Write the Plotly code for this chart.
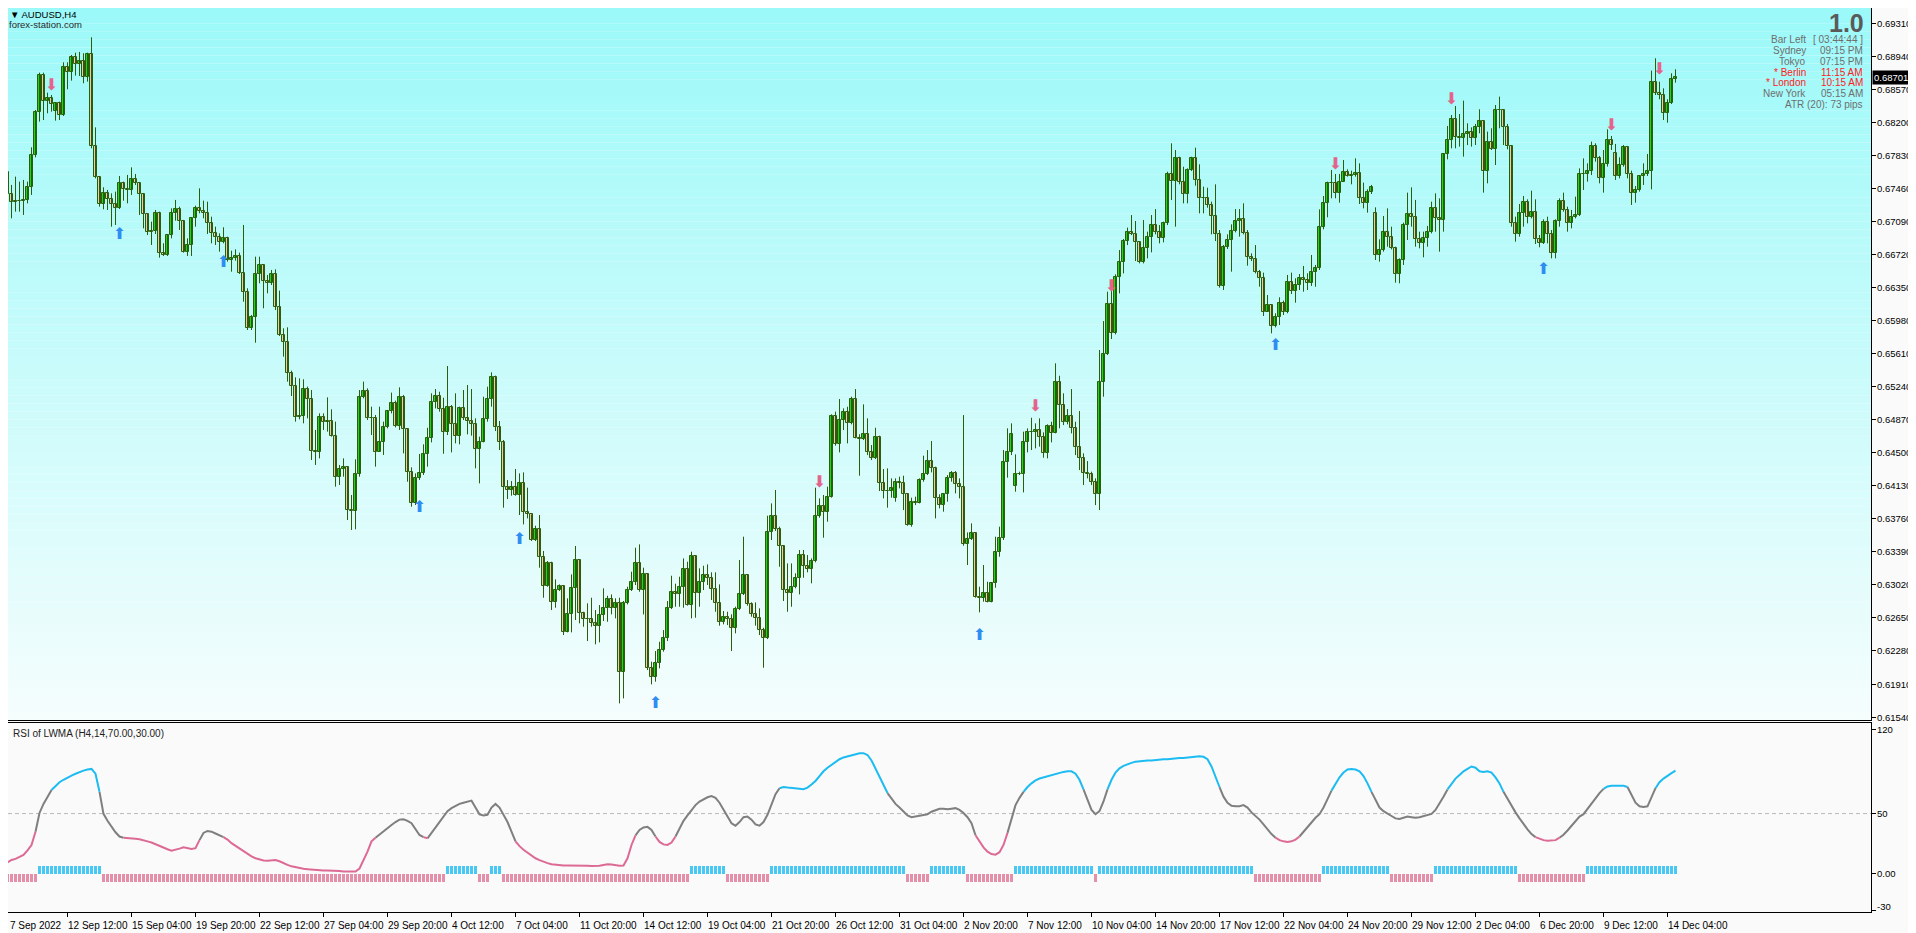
import plotly.graph_objects as go

# AUDUSD H4, bar 0 = 7 Sep 2022 20:00 ... bar 418 = 14 Dec 2022 12:00
closes = [
    0.67646, 0.67392, 0.67310, 0.67318, 0.67318, 0.67329, 0.67470, 0.67829, 0.68310, 0.68728,
    0.68437, 0.68467, 0.68403, 0.68411, 0.68280, 0.68814, 0.68765, 0.68926, 0.68848, 0.68881,
    0.68702, 0.68963, 0.67937, 0.67590, 0.67280, 0.67403, 0.67336, 0.67280, 0.67235, 0.67515,
    0.67448, 0.67441, 0.67560, 0.67515, 0.67396, 0.67168, 0.66974, 0.66982, 0.67187, 0.66739,
    0.66709, 0.66933, 0.67179, 0.67224, 0.67097, 0.66750, 0.66821, 0.67123, 0.67235, 0.67209,
    0.67179, 0.67067, 0.66955, 0.66918, 0.66862, 0.66899, 0.66657, 0.66676, 0.66702, 0.66508,
    0.66295, 0.65892, 0.66015, 0.66496, 0.66601, 0.66426, 0.66396, 0.66500, 0.66134, 0.65817,
    0.65735, 0.65388, 0.65246, 0.64903, 0.64910, 0.65209, 0.65097, 0.64522, 0.64511, 0.64903,
    0.64839, 0.64858, 0.64690, 0.64224, 0.64313, 0.64336, 0.63858, 0.63850, 0.64257, 0.65127,
    0.65190, 0.64884, 0.64892, 0.64511, 0.64616, 0.64791, 0.64966, 0.65060, 0.64798, 0.65119,
    0.64761, 0.64287, 0.63940, 0.64212, 0.64268, 0.64481, 0.64660, 0.65063, 0.65138, 0.64985,
    0.64727, 0.65015, 0.64817, 0.64690, 0.64996, 0.64884, 0.64854, 0.64817, 0.64537, 0.64623,
    0.64873, 0.65100, 0.65343, 0.64783, 0.64623, 0.64119, 0.64082, 0.64119, 0.64026, 0.64156,
    0.63839, 0.63809, 0.63522, 0.63645, 0.63328, 0.63007, 0.63260, 0.62824, 0.62958, 0.63003,
    0.62495, 0.62689, 0.62981, 0.63294, 0.62701, 0.62637, 0.62634, 0.62589, 0.62559, 0.62682,
    0.62757, 0.62857, 0.62757, 0.62813, 0.62040, 0.62813, 0.62958, 0.63048, 0.63260, 0.62962,
    0.63137, 0.62092, 0.61984, 0.62141, 0.62286, 0.62421, 0.62757, 0.62943, 0.62913, 0.62992,
    0.63193, 0.62794, 0.63339, 0.62925, 0.63055, 0.63130, 0.63100, 0.62969, 0.62816, 0.62600,
    0.62663, 0.62637, 0.62540, 0.62749, 0.62913, 0.63130, 0.62801, 0.62690, 0.62645, 0.62510,
    0.62421, 0.63608, 0.63787, 0.63645, 0.63458, 0.62958, 0.62925, 0.62992, 0.63093, 0.63350,
    0.63234, 0.63193, 0.63287, 0.63794, 0.63906, 0.63839, 0.64007, 0.64910, 0.64593, 0.64865,
    0.64951, 0.64828, 0.65097, 0.64667, 0.64652, 0.64705, 0.64503, 0.64436, 0.64679, 0.64156,
    0.64070, 0.64075, 0.64100, 0.64167, 0.64164, 0.64033, 0.63690, 0.63943, 0.63940, 0.64193,
    0.64257, 0.64406, 0.64324, 0.63988, 0.63913, 0.64033, 0.64212, 0.64268, 0.64145, 0.64111,
    0.63473, 0.63529, 0.63596, 0.62887, 0.62869, 0.62924, 0.62831, 0.63036, 0.63383, 0.63540,
    0.64391, 0.64503, 0.64705, 0.64257, 0.64264, 0.64615, 0.64727, 0.64735, 0.64753, 0.64679,
    0.64492, 0.64798, 0.64723, 0.65287, 0.65033, 0.64846, 0.64910, 0.64779, 0.64567, 0.64443,
    0.64275, 0.64257, 0.64175, 0.64033, 0.65287, 0.65600, 0.66160, 0.65835, 0.66462, 0.66638,
    0.66869, 0.66974, 0.66948, 0.66854, 0.66638, 0.66787, 0.66918, 0.67048, 0.66974, 0.66899,
    0.67067, 0.67616, 0.67541, 0.67795, 0.67534, 0.67392, 0.67664, 0.67795, 0.67552, 0.67347,
    0.67354, 0.67272, 0.67153, 0.66944, 0.66369, 0.66798, 0.66880, 0.66985, 0.67093, 0.67112,
    0.66955, 0.66694, 0.66668, 0.66518, 0.66459, 0.66078, 0.66153, 0.65922, 0.66022, 0.66172,
    0.66078, 0.66407, 0.66313, 0.66377, 0.66452, 0.66433, 0.66396, 0.66519, 0.66564, 0.67023,
    0.67291, 0.67515, 0.67523, 0.67411, 0.67534, 0.67646, 0.67601, 0.67605, 0.67627, 0.67347,
    0.67291, 0.67422, 0.67478, 0.66713, 0.66769, 0.66974, 0.66918, 0.66787, 0.66496, 0.66657,
    0.67049, 0.67168, 0.67135, 0.66888, 0.66843, 0.66899, 0.66967, 0.67235, 0.67123, 0.67105,
    0.67840, 0.68000, 0.68232, 0.68038, 0.68019, 0.68068, 0.68086, 0.68019, 0.68142, 0.68213,
    0.67657, 0.67974, 0.67900, 0.68336, 0.68333, 0.68142, 0.67933, 0.67067, 0.66944, 0.67187,
    0.67310, 0.67135, 0.67198, 0.66888, 0.66843, 0.67086, 0.66948, 0.66731, 0.67097, 0.67321,
    0.67217, 0.67067, 0.67135, 0.67157, 0.67616, 0.67623, 0.67657, 0.67937, 0.67795, 0.67579,
    0.67728, 0.68000, 0.67944, 0.67601, 0.67720, 0.67918, 0.67616, 0.67411, 0.67441, 0.67601,
    0.67616, 0.67653, 0.68646, 0.68530, 0.68504, 0.68299, 0.68411, 0.68680, 0.68701,
]

highs = [
    0.67702, 0.67709, 0.67497, 0.67590, 0.67534, 0.67553, 0.67534, 0.67918, 0.68336, 0.68754,
    0.68754, 0.68530, 0.68504, 0.68418, 0.68430, 0.68870, 0.68870, 0.68952, 0.68978, 0.68986,
    0.68971, 0.68978, 0.69150, 0.68142, 0.67597, 0.67471, 0.67441, 0.67403, 0.67422, 0.67597,
    0.67534, 0.67609, 0.67694, 0.67620, 0.67523, 0.67403, 0.67179, 0.67086, 0.67217, 0.67198,
    0.66844, 0.66948, 0.67235, 0.67329, 0.67254, 0.67105, 0.66899, 0.67135, 0.67265, 0.67459,
    0.67321, 0.67310, 0.67142, 0.67030, 0.66955, 0.67023, 0.66918, 0.66761, 0.66776, 0.66739,
    0.67049, 0.66340, 0.66041, 0.66694, 0.66694, 0.66612, 0.66489, 0.66545, 0.66552, 0.66314,
    0.65892, 0.65903, 0.65418, 0.65343, 0.65332, 0.65321, 0.65239, 0.65201, 0.64754, 0.64940,
    0.64940, 0.65119, 0.64985, 0.64847, 0.64362, 0.64436, 0.64343, 0.64026, 0.64425, 0.65201,
    0.65295, 0.65220, 0.65015, 0.64922, 0.65015, 0.64847, 0.64978, 0.65172, 0.65082, 0.65231,
    0.65145, 0.64772, 0.64336, 0.64268, 0.64485, 0.64593, 0.64779, 0.65164, 0.65212, 0.65182,
    0.65115, 0.65470, 0.65033, 0.65164, 0.65015, 0.65201, 0.65257, 0.65212, 0.64884, 0.64679,
    0.65126, 0.65238, 0.65399, 0.65362, 0.64854, 0.64641, 0.64193, 0.64182, 0.64317, 0.64268,
    0.64279, 0.64108, 0.63809, 0.63682, 0.63802, 0.63399, 0.63287, 0.63279, 0.63081, 0.63025,
    0.63018, 0.62869, 0.63137, 0.63455, 0.63309, 0.62719, 0.62813, 0.62876, 0.62738, 0.62794,
    0.62981, 0.62898, 0.62913, 0.62869, 0.62876, 0.62839, 0.62999, 0.63167, 0.63436, 0.63473,
    0.63212, 0.63149, 0.62160, 0.62279, 0.62383, 0.62514, 0.62839, 0.63122, 0.63033, 0.63111,
    0.63316, 0.63279, 0.63391, 0.63354, 0.63205, 0.63234, 0.63249, 0.63160, 0.63160, 0.63025,
    0.62727, 0.62719, 0.62690, 0.62775, 0.63298, 0.63559, 0.63137, 0.62824, 0.62824, 0.62757,
    0.62540, 0.63794, 0.63932, 0.64082, 0.63671, 0.63466, 0.63260, 0.63260, 0.63149, 0.63410,
    0.63410, 0.63354, 0.63316, 0.64108, 0.63988, 0.64026, 0.64119, 0.64929, 0.64959, 0.65100,
    0.64996, 0.65014, 0.65126, 0.65212, 0.64705, 0.65041, 0.64884, 0.64585, 0.64779, 0.64690,
    0.64317, 0.64324, 0.64212, 0.64212, 0.64231, 0.64242, 0.64044, 0.63996, 0.64007, 0.64212,
    0.64466, 0.64529, 0.64630, 0.64343, 0.64033, 0.64044, 0.64249, 0.64294, 0.64294, 0.64212,
    0.64921, 0.63607, 0.63708, 0.63607, 0.62999, 0.63242, 0.63055, 0.63048, 0.63559, 0.63671,
    0.64529, 0.64772, 0.64828, 0.64481, 0.64287, 0.64735, 0.64772, 0.64891, 0.64828, 0.64884,
    0.64727, 0.64817, 0.64846, 0.65500, 0.65361, 0.65164, 0.64988, 0.65212, 0.64846, 0.64966,
    0.64492, 0.64406, 0.64287, 0.64212, 0.65649, 0.65973, 0.66302, 0.66414, 0.66496, 0.66768,
    0.66892, 0.67019, 0.67160, 0.67093, 0.66869, 0.67104, 0.66974, 0.67160, 0.67227, 0.67048,
    0.67086, 0.67645, 0.67963, 0.67888, 0.67813, 0.67701, 0.67683, 0.67813, 0.67914, 0.67728,
    0.67478, 0.67466, 0.67310, 0.67504, 0.66992, 0.66824, 0.66944, 0.67056, 0.67227, 0.67227,
    0.67291, 0.66992, 0.66731, 0.66824, 0.66545, 0.66515, 0.66265, 0.66164, 0.66060, 0.66239,
    0.66202, 0.66489, 0.66515, 0.66452, 0.66500, 0.66590, 0.66508, 0.66713, 0.66601, 0.67224,
    0.67373, 0.67534, 0.67664, 0.67620, 0.67620, 0.67776, 0.67672, 0.67657, 0.67795, 0.67739,
    0.67523, 0.67448, 0.67497, 0.67246, 0.66888, 0.67149, 0.67235, 0.67030, 0.66806, 0.66675,
    0.67075, 0.67411, 0.67470, 0.67329, 0.66974, 0.66974, 0.67038, 0.67310, 0.67403, 0.67347,
    0.67851, 0.68157, 0.68280, 0.68381, 0.68291, 0.68441, 0.68187, 0.68142, 0.68180, 0.68344,
    0.68217, 0.68094, 0.68131, 0.68392, 0.68486, 0.68344, 0.68180, 0.67944, 0.67142, 0.67284,
    0.67373, 0.67336, 0.67433, 0.67336, 0.66937, 0.67112, 0.67142, 0.66993, 0.67112, 0.67347,
    0.67411, 0.67254, 0.67217, 0.67366, 0.67683, 0.67795, 0.67739, 0.67982, 0.67963, 0.67821,
    0.67888, 0.68120, 0.68045, 0.67956, 0.67806, 0.67944, 0.67933, 0.67657, 0.67485, 0.67608,
    0.67739, 0.67844, 0.68777, 0.68915, 0.68653, 0.68579, 0.68456, 0.68747, 0.68792,
]

lows = [
    0.67366, 0.67385, 0.67123, 0.67198, 0.67198, 0.67161, 0.67291, 0.67385, 0.67806, 0.68206,
    0.68224, 0.68299, 0.68318, 0.68217, 0.68224, 0.68269, 0.68568, 0.68665, 0.68721, 0.68717,
    0.68635, 0.68654, 0.67907, 0.67571, 0.67254, 0.67224, 0.67217, 0.67030, 0.67049, 0.67228,
    0.67321, 0.67291, 0.67385, 0.67497, 0.67161, 0.67011, 0.66937, 0.66825, 0.66948, 0.66683,
    0.66702, 0.66702, 0.66899, 0.67097, 0.66993, 0.66739, 0.66702, 0.66702, 0.67030, 0.67179,
    0.67123, 0.66948, 0.66844, 0.66825, 0.66750, 0.66844, 0.66638, 0.66526, 0.66649, 0.66500,
    0.66190, 0.65873, 0.65873, 0.65731, 0.66396, 0.66116, 0.66284, 0.66377, 0.66097, 0.65806,
    0.65575, 0.65295, 0.65134, 0.64847, 0.64873, 0.64828, 0.64884, 0.64418, 0.64362, 0.64436,
    0.64754, 0.64735, 0.64679, 0.64119, 0.64138, 0.64231, 0.63746, 0.63634, 0.63642, 0.64231,
    0.65108, 0.64866, 0.64698, 0.64343, 0.64511, 0.64474, 0.64772, 0.64940, 0.64783, 0.64754,
    0.64492, 0.64175, 0.63895, 0.63914, 0.64194, 0.64250, 0.64343, 0.64615, 0.64996, 0.64959,
    0.64488, 0.64697, 0.64503, 0.64604, 0.64593, 0.64865, 0.64705, 0.64690, 0.64324, 0.64156,
    0.64615, 0.64847, 0.65015, 0.64742, 0.64529, 0.63884, 0.63981, 0.64018, 0.64018, 0.63802,
    0.63697, 0.63764, 0.63511, 0.63511, 0.63212, 0.62876, 0.62999, 0.62738, 0.62764, 0.62951,
    0.62458, 0.62488, 0.62488, 0.62626, 0.62589, 0.62551, 0.62391, 0.62551, 0.62354, 0.62376,
    0.62615, 0.62607, 0.62690, 0.62645, 0.61693, 0.61749, 0.62801, 0.62951, 0.63018, 0.62943,
    0.62689, 0.62066, 0.61906, 0.61936, 0.62085, 0.62272, 0.62391, 0.62749, 0.62775, 0.62775,
    0.62764, 0.62787, 0.62645, 0.62652, 0.62775, 0.62962, 0.63018, 0.62850, 0.62719, 0.62563,
    0.62578, 0.62570, 0.62279, 0.62477, 0.62738, 0.62906, 0.62787, 0.62663, 0.62563, 0.62458,
    0.62092, 0.62413, 0.63522, 0.63623, 0.63223, 0.62839, 0.62719, 0.62775, 0.62981, 0.62913,
    0.63100, 0.63160, 0.63037, 0.63272, 0.63772, 0.63548, 0.63727, 0.63996, 0.64578, 0.64503,
    0.64753, 0.64604, 0.64817, 0.64660, 0.64242, 0.64641, 0.64473, 0.64417, 0.64428, 0.64070,
    0.63988, 0.63884, 0.63996, 0.63951, 0.64100, 0.63857, 0.63682, 0.63671, 0.63913, 0.63932,
    0.64175, 0.64249, 0.64279, 0.63764, 0.63876, 0.63839, 0.63951, 0.64175, 0.64044, 0.63988,
    0.63458, 0.63242, 0.63522, 0.62876, 0.62712, 0.62831, 0.62824, 0.62824, 0.62988, 0.63335,
    0.63522, 0.64220, 0.64473, 0.64063, 0.64249, 0.64055, 0.64503, 0.64529, 0.64548, 0.64567,
    0.64443, 0.64436, 0.64615, 0.64716, 0.64772, 0.64809, 0.64817, 0.64716, 0.64473, 0.64305,
    0.64137, 0.64212, 0.64137, 0.63913, 0.63857, 0.65126, 0.65593, 0.65772, 0.65824, 0.66283,
    0.66507, 0.66824, 0.66936, 0.66645, 0.66619, 0.66619, 0.66675, 0.66742, 0.66944, 0.66843,
    0.66854, 0.67048, 0.67328, 0.67030, 0.67504, 0.67291, 0.67291, 0.67653, 0.67489, 0.67179,
    0.67179, 0.67242, 0.66944, 0.66869, 0.66347, 0.66321, 0.66780, 0.66526, 0.66966, 0.66918,
    0.66944, 0.66593, 0.66645, 0.66507, 0.66358, 0.66030, 0.66078, 0.65836, 0.65903, 0.65929,
    0.66041, 0.66060, 0.66276, 0.66179, 0.66321, 0.66302, 0.66321, 0.66366, 0.66358, 0.66545,
    0.67000, 0.67135, 0.67347, 0.67347, 0.67299, 0.67534, 0.67590, 0.67504, 0.67590, 0.67284,
    0.67235, 0.67187, 0.67396, 0.66657, 0.66638, 0.66750, 0.66806, 0.66776, 0.66403, 0.66396,
    0.66601, 0.66881, 0.67030, 0.66806, 0.66787, 0.66687, 0.66806, 0.66955, 0.66974, 0.66750,
    0.66974, 0.67784, 0.67907, 0.67907, 0.67926, 0.67814, 0.67944, 0.67926, 0.67944, 0.68075,
    0.67411, 0.67515, 0.67888, 0.67720, 0.68131, 0.67944, 0.67896, 0.67030, 0.66862, 0.66918,
    0.67030, 0.67067, 0.67123, 0.66836, 0.66799, 0.66836, 0.66843, 0.66675, 0.66675, 0.67030,
    0.67198, 0.66974, 0.67011, 0.67123, 0.67149, 0.67441, 0.67534, 0.67608, 0.67758, 0.67515,
    0.67411, 0.67702, 0.67888, 0.67553, 0.67571, 0.67702, 0.67571, 0.67273, 0.67299, 0.67422,
    0.67497, 0.67597, 0.67448, 0.68504, 0.68456, 0.68224, 0.68194, 0.68403, 0.68642,
]

# bars open at the previous close, except the first bar and the Monday gaps
first_open = 0.67385
gap_opens = {13: 0.68329, 223: 0.63988, 253: 0.64130, 343: 0.67179, 403: 0.67851}

# RSI of LWMA (14)
rsi_values = [
    7.5, 9.5, 11.6, 12.5, 14, 15.7, 19.5, 24, 35, 50.5,
    58, 64, 69.5, 73, 76, 78, 80, 81.5, 83, 84.5,
    85.6, 86.5, 87, 83, 68, 49.8, 44, 39, 34.5, 31,
    30, 29.5, 29.3, 29.1, 28.8, 28.2, 27, 26, 24.5, 23.2,
    22, 20.5, 19.3, 19.9, 21, 22, 21, 20.6, 21.3, 28,
    34, 35.6, 35, 33.5, 32.3, 30.5, 28.5, 25.5, 23.2, 21.5,
    19, 16.5, 14.5, 13, 12, 11.2, 11, 11.3, 11.6, 10.5,
    8.8, 7.5, 6.3, 5.5, 4.8, 4.3, 4, 3.6, 3.2, 2.9,
    2.8, 2.8, 2.8, 2.8, 2.5, 2.1, 2, 2, 2, 4.5,
    11, 18.5, 27, 30, 32.8, 35, 38, 40.5, 43, 45,
    45.3, 44, 42, 37, 32.3, 30.5, 29.5, 34, 38.6, 44,
    48, 52, 54.5, 56.5, 58, 59, 60, 60.7, 55, 49.4,
    48.5, 49, 55, 58, 55, 49, 43, 35, 27, 23,
    20, 17.5, 15, 13, 11.5, 10, 9, 8, 7.5, 7,
    7, 7, 7, 7, 7.2, 7, 6.8, 6.5, 6.5, 6.8,
    7.5, 8, 7.8, 7.2, 6.8, 7, 13, 24, 32, 36.5,
    38.5, 39, 36.5, 31, 26.5, 24.5, 24, 26, 31, 38,
    44, 48.5, 53, 57, 60, 62, 63.5, 64.5, 63, 59,
    53, 47, 42, 40, 43, 47, 47.5, 45, 41, 40,
    43, 49, 58, 66, 71, 72, 71.5, 71, 70.8, 70.5,
    70.2, 71.5, 74, 77, 81, 85, 88, 90.5, 93, 95,
    96.5, 97.5, 98.5, 99.5, 100, 100, 98.5, 94, 87, 80,
    73, 67, 62, 58, 55, 51.5, 48.5, 47, 47.5, 48,
    48.5, 49.5, 51.5, 53, 54, 54, 53.5, 54, 54.5, 53,
    50.5, 47, 42, 32, 27, 22, 18.5, 16.5, 16, 18,
    24, 34, 46, 57, 63, 68, 72, 75, 77.5, 79,
    80, 81, 81.5, 82.5, 83.5, 84.5, 85, 85, 83, 78,
    70, 61, 53, 49.5, 52, 60, 70, 78, 84, 87.5,
    89.5, 91, 92, 93, 93.5, 93.5, 94, 94, 94.5, 94.5,
    95, 95, 95.5, 95.5, 96, 96, 96.5, 97, 97.5, 97.5,
    97, 95, 89, 81, 72, 64, 59, 56.5, 56, 56,
    57, 55, 51, 48, 45, 41, 37, 33, 30, 28,
    27, 26.5, 27, 28.5, 31, 35, 39, 43, 46.5, 49.5,
    55, 62, 69, 75, 80, 84, 86.5, 87, 86.5, 85,
    81, 75, 68, 61, 55, 52, 50.3, 48, 46, 45.5,
    46.5, 47.5, 47, 46.5, 47, 48, 49, 49.7, 53, 58,
    64, 70, 75, 79, 82, 85, 87, 89, 88, 85,
    84.5, 85, 84, 80, 75, 68, 62, 56, 51, 46,
    41, 37, 33, 30.5, 29, 28, 27.5, 27.5, 28, 30,
    32.5, 36, 40, 44, 47.5, 49.5, 54, 58, 63, 67,
    70.5, 72.5, 73, 73, 73, 73, 72, 65, 59, 56,
    55.5, 56, 64, 71, 76, 79, 81.5, 83.5, 85.5,
]

# signal arrows
sell_bars = [12, 204, 258, 277, 333, 362, 402, 414]
sell_prices = [0.6860, 0.6416, 0.6501, 0.6636, 0.6772, 0.6845, 0.6816, 0.6878]
buy_bars = [29, 55, 104, 129, 163, 244, 318, 385]
buy_prices = [0.6694, 0.6662, 0.6388, 0.6352, 0.6169, 0.6245, 0.6569, 0.6654]

date_ticks = [0, 16, 32, 48, 64, 80, 96, 112, 128, 144, 160, 176, 192, 208,
              224, 240, 256, 272, 288, 304, 320, 336, 352, 368, 384, 400, 416]
date_labels = ["7 Sep 2022", "12 Sep 12:00", "15 Sep 04:00", "19 Sep 20:00", "22 Sep 12:00",
               "27 Sep 04:00", "29 Sep 20:00", "4 Oct 12:00", "7 Oct 04:00", "11 Oct 20:00",
               "14 Oct 12:00", "19 Oct 04:00", "21 Oct 20:00", "26 Oct 12:00", "31 Oct 04:00",
               "2 Nov 20:00", "7 Nov 12:00", "10 Nov 04:00", "14 Nov 20:00", "17 Nov 12:00",
               "22 Nov 04:00", "24 Nov 20:00", "29 Nov 12:00", "2 Dec 04:00", "6 Dec 20:00",
               "9 Dec 12:00", "14 Dec 04:00"]
price_ticks = [0.61540, 0.61910, 0.62280, 0.62650, 0.63020, 0.63390, 0.63760, 0.64130,
               0.64500, 0.64870, 0.65240, 0.65610, 0.65980, 0.66350, 0.66720, 0.67090,
               0.67460, 0.67830, 0.68200, 0.68570, 0.68940, 0.69310]
rsi_ticks = [120, 50, 0, -30]
rsi_tick_labels = ["120", "50", "0.00", "-30"]
last_price = 0.68701

session_names = ["Bar Left", "Sydney", "Tokyo", "* Berlin", "* London", "New York"]
session_values = ["[ 03:44:44 ]", "09:15 PM", "07:15 PM", "11:15 AM", "10:15 AM", "05:15 AM"]
session_open = [False, False, False, True, True, False]
atr_text = "ATR (20): 73 pips"

# ---- page geometry (the page body has an 8px margin) ----------------------
OFF = 8
SCREEN_W, SCREEN_H = 1916, 933
W, H = SCREEN_W - OFF, SCREEN_H - OFF
PLOT_R, PLOT_B = 1871, 912          # right axis line / bottom axis line on screen
ML, MT = 0, 0
MR, MB = SCREEN_W - PLOT_R, SCREEN_H - PLOT_B
PW, PH = W - ML - MR, H - MT - MB
FONT = "Liberation Sans"


def fx(sx):
    return (sx - OFF - ML) / PW


def fy(sy):
    return (PLOT_B - sy) / PH


def bar_px(i):
    return 3 + 4 * i


x_left = (OFF - 3) / 4 - 0.125
x_right = x_left + PW / 4
price_top = 0.69310 + (23 - OFF) * 0.0037 / 33.05
price_bot = 0.69310 - (720 - 23) * 0.0037 / 33.05

n = min(len(closes), len(highs), len(lows), len(rsi_values))
bars = list(range(n))
opens = []
for i in bars:
    if i == 0:
        opens.append(first_open)
    elif i in gap_opens:
        opens.append(gap_opens[i])
    else:
        opens.append(closes[i - 1])
hi = [max(highs[i], opens[i], closes[i]) for i in bars]
lo = [min(lows[i], opens[i], closes[i]) for i in bars]

fig = go.Figure()

# wicks
wx, wy = [], []
for i in bars:
    wx += [i, i, None]
    wy += [lo[i], hi[i], None]
fig.add_trace(go.Scatter(x=wx, y=wy, mode="lines", line=dict(color="#2b5e0b", width=1),
                         xaxis="x", yaxis="y", hoverinfo="skip", showlegend=False))

# bodies
min_body = 0.00003
body_base, body_len, body_col = [], [], []
for i in bars:
    o, c = opens[i], closes[i]
    bottom, size = min(o, c), abs(c - o)
    if size < min_body:
        bottom, size = (o + c) / 2 - min_body / 2, min_body
    body_base.append(bottom)
    body_len.append(size)
    body_col.append("#14dc14" if c >= o else "#f2cba8")
fig.add_trace(go.Bar(x=bars, y=body_len, base=body_base, width=0.72,
                     marker=dict(color=body_col, line=dict(color="#2b5e0b", width=1)),
                     xaxis="x", yaxis="y", hoverinfo="skip", showlegend=False))

fig.add_trace(go.Scatter(
    x=sell_bars, y=sell_prices, mode="text", text=["⬇"] * len(sell_bars),
    textfont=dict(family="DejaVu Sans", size=16, color="#e2648c"),
    xaxis="x", yaxis="y", hoverinfo="skip", showlegend=False,
))
fig.add_trace(go.Scatter(
    x=buy_bars, y=buy_prices, mode="text", text=["⬆"] * len(buy_bars),
    textfont=dict(family="DejaVu Sans", size=16, color="#2f8cf2"),
    xaxis="x", yaxis="y", hoverinfo="skip", showlegend=False,
))

# histogram of RSI above / below 50
up_x = [i for i in bars if rsi_values[i] > 50]
dn_x = [i for i in bars if rsi_values[i] <= 50]
fig.add_trace(go.Bar(x=up_x, y=[6.5] * len(up_x), width=0.75, marker=dict(color="#48c8f4", line=dict(width=0)),
                     xaxis="x2", yaxis="y2", hoverinfo="skip", showlegend=False))
fig.add_trace(go.Bar(x=dn_x, y=[-6.5] * len(dn_x), width=0.75, marker=dict(color="#e68fab", line=dict(width=0)),
                     xaxis="x2", yaxis="y2", hoverinfo="skip", showlegend=False))


# RSI line, coloured by level
def seg_class(a, b):
    m = (a + b) / 2
    if m >= 70:
        return "hi"
    if m <= 30:
        return "lo"
    return "mid"


line_colors = {"hi": "#1cbcf2", "mid": "#7f7f7f", "lo": "#dc6a95"}
paths = {k: ([], []) for k in line_colors}
i = 0
while i < n - 1:
    c = seg_class(rsi_values[i], rsi_values[i + 1])
    j = i
    while j < n - 1 and seg_class(rsi_values[j], rsi_values[j + 1]) == c:
        j += 1
    xs, ys = paths[c]
    xs.extend(list(range(i, j + 1)) + [None])
    ys.extend(rsi_values[i:j + 1] + [None])
    i = j

for k, (xs, ys) in paths.items():
    fig.add_trace(go.Scatter(x=xs, y=ys, mode="lines", line=dict(color=line_colors[k], width=2),
                             connectgaps=False, xaxis="x2", yaxis="y2", hoverinfo="skip", showlegend=False))

# background gradient of the price window
shapes = []
steps = 90
top_rgb, bot_rgb = (155, 249, 249), (246, 253, 253)
for s in range(steps):
    t = (s + 0.5) / steps
    rgb = tuple(round(bot_rgb[k] + (top_rgb[k] - bot_rgb[k]) * t) for k in range(3))
    shapes.append(dict(type="rect", xref="x domain", yref="y domain", x0=0, x1=1,
                       y0=s / steps, y1=(s + 1) / steps, fillcolor="rgb(%d,%d,%d)" % rgb,
                       line=dict(width=0), layer="below"))
shapes.append(dict(type="line", xref="x2 domain", yref="y2", x0=0, x1=1, y0=50, y1=50,
                   line=dict(color="#b8b8b8", width=1, dash="4px,3px"), layer="below"))

annotations = []
small = dict(family=FONT, size=10, color="#000000")
axis_font = dict(family=FONT, size=9.5, color="#000000")

# date labels start at their tick, as in the terminal
for tv, tl in zip(date_ticks, date_labels):
    annotations.append(dict(x=max(fx(bar_px(tv) - 1), 0.0), y=fy(925), xref="paper", yref="paper", text=tl,
                            showarrow=False, xanchor="left", yanchor="middle", font=small))

# price / rsi labels to the right of the axis
for v in price_ticks:
    annotations.append(dict(x=fx(1875), y=v, xref="paper", yref="y", text="%.5f" % v, showarrow=False,
                            xanchor="left", yanchor="middle", font=axis_font))
for v, t in zip(rsi_ticks, rsi_tick_labels):
    annotations.append(dict(x=fx(1875), y=v, xref="paper", yref="y2", text=t, showarrow=False,
                            xanchor="left", yanchor="middle", yshift=4 if v < 0 else 0, font=axis_font))

annotations.append(dict(x=fx(OFF + 1), y=1, xref="paper", yref="paper", text="▼ AUDUSD,H4",
                        showarrow=False, xanchor="left", yanchor="top", borderpad=0,
                        font=dict(family=FONT, size=9.5, color="#000000")))
annotations.append(dict(x=fx(OFF), y=fy(24), xref="paper", yref="paper", text="forex-station.com",
                        showarrow=False, xanchor="left", yanchor="middle", borderpad=0,
                        font=dict(family=FONT, size=9.5, color="#2a2a2a")))
annotations.append(dict(x=fx(11), y=fy(733), xref="paper", yref="paper",
                        text="RSI of LWMA (H4,14,70.00,30.00)", showarrow=False,
                        xanchor="left", yanchor="middle", font=dict(family=FONT, size=10, color="#222222")))

annotations.append(dict(x=fx(1865), y=1, xref="paper", yref="paper", text="<b>1.0</b>",
                        showarrow=False, xanchor="right", yanchor="top", borderpad=0,
                        font=dict(family=FONT, size=25, color="#5a5a5a")))
row_y = [39, 50, 61, 72, 83, 94]
for name, val, hot, ry in zip(session_names, session_values, session_open, row_y):
    col = "#ff2020" if hot else "#6e6e6e"
    annotations.append(dict(x=fx(1808), y=fy(ry), xref="paper", yref="paper", text=name, showarrow=False,
                            xanchor="right", yanchor="middle", font=dict(family=FONT, size=10, color=col)))
    annotations.append(dict(x=fx(1865), y=fy(ry), xref="paper", yref="paper", text=val, showarrow=False,
                            xanchor="right", yanchor="middle", font=dict(family=FONT, size=10, color=col)))
annotations.append(dict(x=fx(1865), y=fy(105), xref="paper", yref="paper", text=atr_text, showarrow=False,
                        xanchor="right", yanchor="middle", font=dict(family=FONT, size=10, color="#6e6e6e")))

annotations.append(dict(x=fx(1872), y=last_price, xref="paper", yref="y", text="%.5f" % last_price,
                        showarrow=False, xanchor="left", yanchor="middle", bgcolor="#000000",
                        borderpad=1, font=dict(family=FONT, size=9.5, color="#ffffff")))

axis_common = dict(showgrid=False, zeroline=False, showline=True, mirror=True,
                   linecolor="#000000", linewidth=1, fixedrange=True)

fig.update_layout(
    width=W, height=H,
    margin=dict(l=ML, r=MR, t=MT, b=MB, pad=0),
    paper_bgcolor="#fafafa", plot_bgcolor="#fafafa",
    showlegend=False, barmode="overlay", bargap=0,
    font=dict(family=FONT, size=10, color="#000000"),
    xaxis=dict(domain=[0, 1], anchor="y", range=[x_left, x_right], showticklabels=False, ticks="",
               **axis_common),
    yaxis=dict(domain=[fy(720), 1], anchor="x", side="right", range=[price_bot, price_top],
               tickvals=price_ticks, showticklabels=False,
               ticks="outside", ticklen=4, tickcolor="#000000", **axis_common),
    xaxis2=dict(domain=[0, 1], anchor="y2", range=[x_left, x_right], matches="x",
                tickvals=date_ticks, showticklabels=False, ticks="outside", ticklen=4,
                tickcolor="#000000", **axis_common),
    yaxis2=dict(domain=[0, fy(723)], anchor="x2", side="right", range=[-31.5, 125],
                tickvals=rsi_ticks, showticklabels=False, ticks="outside", ticklen=4,
                tickcolor="#000000", **axis_common),
    shapes=shapes,
    annotations=annotations,
)

fig.write_html("out.html")
